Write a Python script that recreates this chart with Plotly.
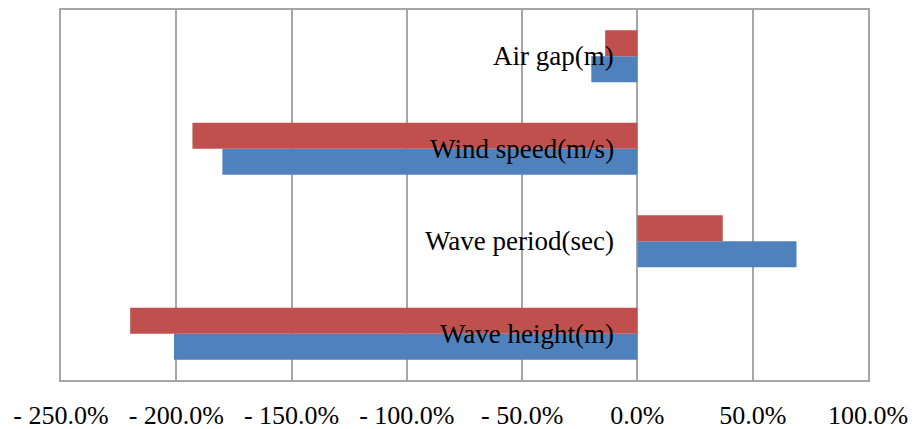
import plotly.graph_objects as go

# Relative change (%) per parameter, listed bottom to top
categories = ["Wave height(m)", "Wave period(sec)", "Wind speed(m/s)", "Air gap(m)"]
series_blue = [-201, 69, -180, -20]
series_red = [-220, 37, -193, -14]

tick_values = [-250, -200, -150, -100, -50, 0, 50, 100]
tick_labels = ["- 250.0%", "- 200.0%", "- 150.0%", "- 100.0%", "- 50.0%", "0.0%", "50.0%", "100.0%"]

BLUE = "#4F81BD"
RED = "#C0504D"
GRID = "#A6A6A6"
FONT = "Liberation Serif, Times New Roman, serif"

fig = go.Figure()
fig.add_trace(go.Bar(y=categories, x=series_blue, orientation="h",
                     marker=dict(color=BLUE, line=dict(width=0)), showlegend=False))
fig.add_trace(go.Bar(y=categories, x=series_red, orientation="h",
                     marker=dict(color=RED, line=dict(width=0)), showlegend=False))

# Category names placed just left of the zero line
for cat in categories:
    fig.add_annotation(x=0, y=cat, text=cat, showarrow=False,
                       xanchor="right", yanchor="middle", xshift=-21,
                       font=dict(family=FONT, size=27, color="#000000"))

fig.update_layout(
    width=920, height=429,
    margin=dict(l=61, r=52, t=10, b=49, autoexpand=False),
    paper_bgcolor="white", plot_bgcolor="white",
    barmode="group", bargap=0.44, bargroupgap=0,
    font=dict(family=FONT, size=26, color="#000000"),
)
fig.update_xaxes(
    range=[-250, 100], tickvals=tick_values, ticktext=tick_labels,
    showgrid=True, gridcolor=GRID, gridwidth=2,
    zeroline=False, showline=True, linecolor=GRID, linewidth=2, mirror=True,
    ticks="", ticklabelstandoff=11, automargin=False,
    tickfont=dict(family=FONT, size=26, color="#000000"),
)
fig.update_yaxes(
    range=[-0.5, 3.5], showticklabels=False, showgrid=False, zeroline=False,
    showline=True, linecolor=GRID, linewidth=2, mirror=True, ticks="",
    automargin=False,
)

fig.write_html("out.html")
